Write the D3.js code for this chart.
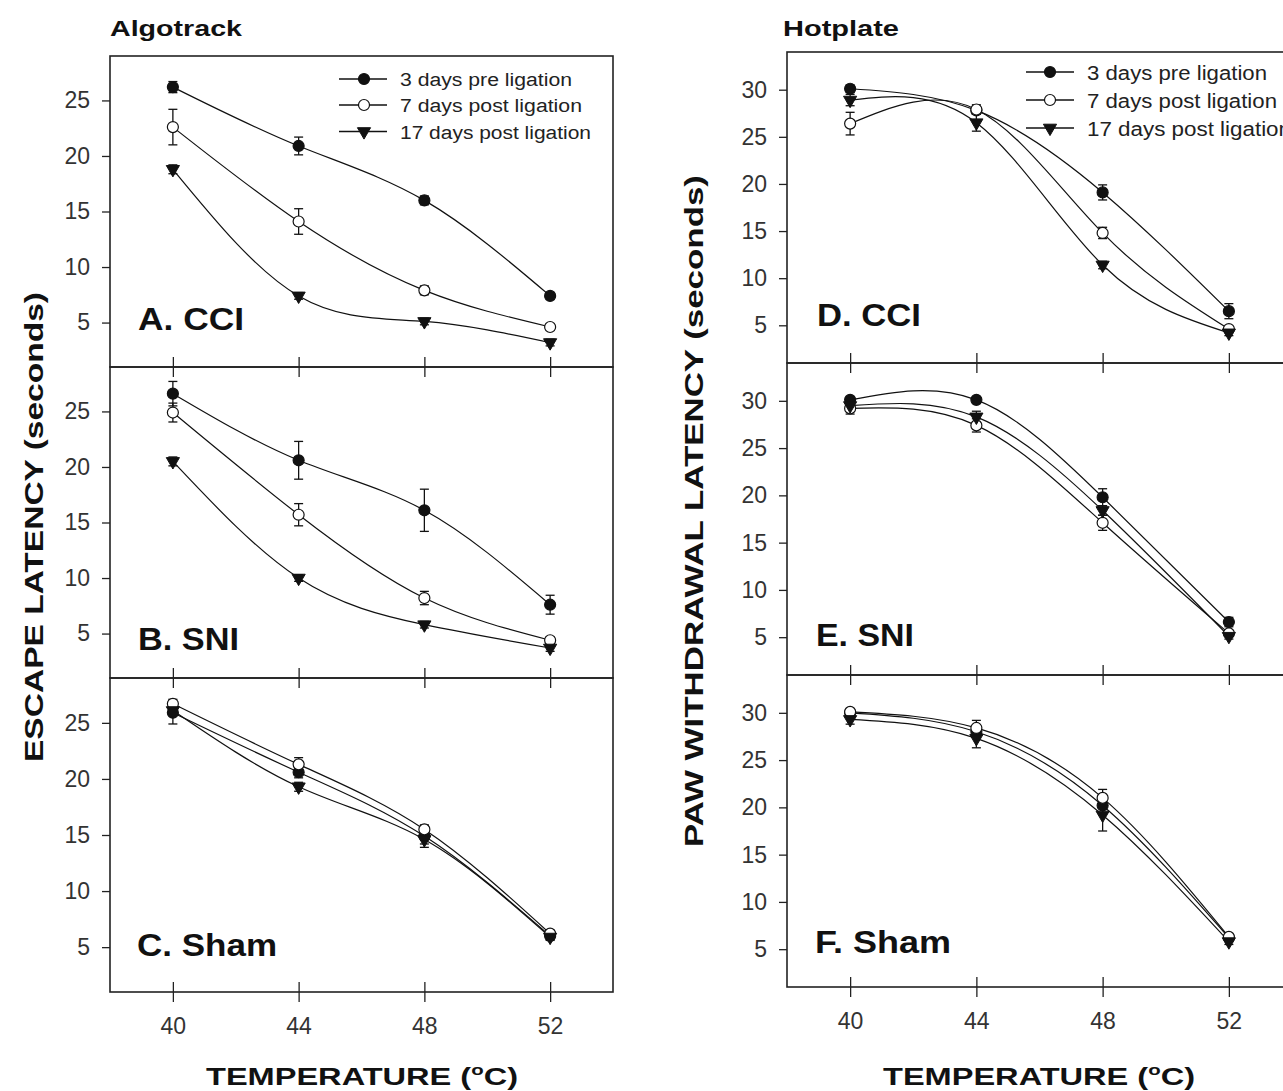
<!DOCTYPE html>
<html><head><meta charset="utf-8">
<script src="https://cdn.jsdelivr.net/npm/d3@7"></script>
<style>
body{margin:0;background:#fff}
svg{display:block}
text{font-family:"Liberation Sans",Arial,Helvetica,sans-serif}
</style>
</head><body>
<svg id="chart" width="1283" height="1091"></svg>
<script>
// ---------------- DATA ----------------
const temperatures = [40, 44, 48, 52];
const seriesNames = ["3 days pre ligation", "7 days post ligation", "17 days post ligation"];
const xTickValues = [40, 44, 48, 52];
const yTicksAlgotrack = [5, 10, 15, 20, 25];
const yTicksHotplate = [5, 10, 15, 20, 25, 30];
const panelLabels = ["A. CCI", "B. SNI", "C. Sham", "D. CCI", "E. SNI", "F. Sham"];

// A. CCI (Algotrack)
const algoCciPre = [26.2, 20.9, 16.0, 7.4],   algoCciPreErr = [0.5, 0.8, 0.4, 0.3];
const algoCci7 = [22.6, 14.1, 7.9, 4.6],      algoCci7Err = [1.6, 1.15, 0.4, 0.3];
const algoCci17 = [18.8, 7.4, 5.1, 3.2],      algoCci17Err = [0.4, 0.3, 0.3, 0.3];
// B. SNI (Algotrack)
const algoSniPre = [26.6, 20.6, 16.1, 7.6],   algoSniPreErr = [1.1, 1.7, 1.9, 0.85];
const algoSni7 = [24.9, 15.7, 8.2, 4.4],      algoSni7Err = [0.85, 1.0, 0.6, 0.3];
const algoSni17 = [20.5, 10.0, 5.8, 3.7],     algoSni17Err = [0.4, 0.3, 0.3, 0.3];
// C. Sham (Algotrack)
const algoShamPre = [25.9, 20.6, 14.9, 6.0],  algoShamPreErr = [1.0, 0.5, 1.0, 0.3];
const algoSham7 = [26.7, 21.3, 15.5, 6.2],    algoSham7Err = [0.4, 0.6, 0.3, 0.3];
const algoSham17 = [26.1, 19.3, 14.6, 5.9],   algoSham17Err = [0.4, 0.4, 0.4, 0.3];
// D. CCI (Hotplate)
const hotCciPre = [30.1, 27.8, 19.1, 6.5],    hotCciPreErr = [0.4, 0.4, 0.8, 0.8];
const hotCci7 = [26.4, 27.9, 14.8, 4.6],      hotCci7Err = [1.2, 0.5, 0.6, 0.3];
const hotCci17 = [28.9, 26.5, 11.4, 4.2],     hotCci17Err = [0.6, 0.9, 0.4, 0.3];
// E. SNI (Hotplate)
const hotSniPre = [30.1, 30.1, 19.8, 6.6],    hotSniPreErr = [0.3, 0.3, 0.9, 0.5];
const hotSni7 = [29.2, 27.4, 17.1, 5.4],      hotSni7Err = [0.6, 0.7, 0.8, 0.3];
const hotSni17 = [29.5, 28.3, 18.4, 5.1],     hotSni17Err = [0.5, 0.6, 0.5, 0.3];
// F. Sham (Hotplate)
const hotShamPre = [30.0, 28.0, 20.2, 6.2],   hotShamPreErr = [0.3, 0.5, 0.8, 0.3];
const hotSham7 = [30.1, 28.4, 21.0, 6.3],     hotSham7Err = [0.3, 0.8, 0.9, 0.3];
const hotSham17 = [29.3, 27.3, 19.2, 5.8],    hotSham17Err = [0.5, 1.0, 1.7, 0.3];

// ---------------- LAYOUT ----------------
const svg = d3.select("#chart");
const INK = "#111";
const cols = [
  { x: [110, 613], yDomain: [1, 29], ticks: yTicksAlgotrack, rows: [[56, 367], [367, 678], [678, 992]] },
  { x: [787, 1292], yDomain: [1, 34], ticks: yTicksHotplate, rows: [[52, 363], [363, 675], [675, 987]] }
];
const panels = [
  { col: 0, row: 0, label: panelLabels[0], labelPos: [138, 330, 106], series: [[algoCciPre, algoCciPreErr], [algoCci7, algoCci7Err], [algoCci17, algoCci17Err]], legend: true },
  { col: 0, row: 1, label: panelLabels[1], labelPos: [138, 650, 101], series: [[algoSniPre, algoSniPreErr], [algoSni7, algoSni7Err], [algoSni17, algoSni17Err]] },
  { col: 0, row: 2, label: panelLabels[2], labelPos: [137, 956, 140], series: [[algoShamPre, algoShamPreErr], [algoSham7, algoSham7Err], [algoSham17, algoSham17Err]], xLabels: true },
  { col: 1, row: 0, label: panelLabels[3], labelPos: [817, 326, 104], series: [[hotCciPre, hotCciPreErr], [hotCci7, hotCci7Err], [hotCci17, hotCci17Err]], legend: true },
  { col: 1, row: 1, label: panelLabels[4], labelPos: [816, 646, 98], series: [[hotSniPre, hotSniPreErr], [hotSni7, hotSni7Err], [hotSni17, hotSni17Err]] },
  { col: 1, row: 2, label: panelLabels[5], labelPos: [815, 953, 136], series: [[hotShamPre, hotShamPreErr], [hotSham7, hotSham7Err], [hotSham17, hotSham17Err]], xLabels: true }
];

const circleSym = d3.symbol(d3.symbolCircle, 95);
const triSym = d3.symbol(d3.symbolTriangle, 75);
function drawMarker(g, si, x, y) {
  if (si === 2) {
    g.append("path").attr("d", triSym()).attr("transform", `translate(${x},${y}) rotate(180)`)
      .attr("fill", INK).attr("stroke", INK).attr("stroke-width", 1);
  } else {
    g.append("path").attr("d", circleSym()).attr("transform", `translate(${x},${y})`)
      .attr("fill", si === 0 ? INK : "#fff").attr("stroke", INK).attr("stroke-width", 1.2);
  }
}

panels.forEach(p => {
  const c = cols[p.col];
  const [top, bottom] = c.rows[p.row];
  const x = d3.scaleLinear().domain([38, 54]).range(c.x);
  const y = d3.scaleLinear().domain(c.yDomain).range([bottom, top]);
  const g = svg.append("g");

  // frame
  g.append("rect").attr("x", c.x[0]).attr("y", top).attr("width", c.x[1] - c.x[0]).attr("height", bottom - top)
    .attr("fill", "none").attr("stroke", "#222").attr("stroke-width", 1.6);

  // y axis
  const ya = g.append("g").attr("transform", `translate(${c.x[0]},0)`)
    .call(d3.axisLeft(y).tickValues(c.ticks).tickSize(8).tickSizeOuter(0).tickPadding(12));
  ya.select(".domain").remove();
  ya.selectAll(".tick line").attr("stroke", "#222").attr("stroke-width", 1.3);
  ya.selectAll(".tick text").attr("font-size", 23).attr("fill", "#333")
    .attr("font-family", "'Liberation Sans', Arial, sans-serif");

  // x axis ticks (crossing)
  const xa = g.append("g").attr("transform", `translate(0,${bottom})`)
    .call(d3.axisBottom(x).tickValues(xTickValues).tickSize(10).tickSizeOuter(0).tickPadding(16));
  xa.select(".domain").remove();
  xa.selectAll(".tick line").attr("y1", -10).attr("y2", 10).attr("stroke", "#222").attr("stroke-width", 1.3);
  if (p.xLabels) {
    xa.selectAll(".tick text").attr("font-size", 23).attr("fill", "#333")
      .attr("font-family", "'Liberation Sans', Arial, sans-serif");
  } else {
    xa.selectAll(".tick text").remove();
  }

  // lines
  const line = d3.line().x((d, i) => x(temperatures[i])).y(d => y(d)).curve(d3.curveNatural);
  p.series.forEach(([vals]) => {
    g.append("path").attr("d", line(vals)).attr("fill", "none").attr("stroke", INK).attr("stroke-width", 1.2);
  });
  // error bars
  p.series.forEach(([vals, errs]) => {
    vals.forEach((v, i) => {
      const cx = x(temperatures[i]);
      const y1 = y(v + errs[i]), y2 = y(v - errs[i]);
      g.append("line").attr("x1", cx).attr("x2", cx).attr("y1", y1).attr("y2", y2).attr("stroke", INK).attr("stroke-width", 1.3);
      [y1, y2].forEach(yy => g.append("line").attr("x1", cx - 4.5).attr("x2", cx + 4.5).attr("y1", yy).attr("y2", yy)
        .attr("stroke", INK).attr("stroke-width", 1.3));
    });
  });
  // markers
  p.series.forEach(([vals], si) => {
    vals.forEach((v, i) => drawMarker(g, si, x(temperatures[i]), y(v)));
  });

  // panel label
  g.append("text").attr("x", p.labelPos[0]).attr("y", p.labelPos[1]).attr("font-size", 32).attr("font-weight", "bold")
    .attr("fill", INK).attr("textLength", p.labelPos[2]).attr("lengthAdjust", "spacingAndGlyphs").text(p.label);

  // legend
  if (p.legend) {
    const L = p.col === 0
      ? { x1: 339, x2: 387, mx: 364, tx: 400, rows: [79, 105, 131.5], base: 7, fs: 18, lens: [172, 182, 191] }
      : { x1: 1026, x2: 1074, mx: 1050, tx: 1087, rows: [72, 100, 128], base: 8, fs: 20, lens: [180, 190, 204] };
    seriesNames.forEach((name, si) => {
      const yy = L.rows[si];
      g.append("line").attr("x1", L.x1).attr("x2", L.x2).attr("y1", yy).attr("y2", yy).attr("stroke", INK).attr("stroke-width", 1.3);
      drawMarker(g, si, L.mx, yy);
      g.append("text").attr("x", L.tx).attr("y", yy + L.base).attr("font-size", L.fs).attr("fill", "#222")
        .attr("textLength", L.lens[si]).attr("lengthAdjust", "spacingAndGlyphs").text(name);
    });
  }
});

// titles
svg.append("text").attr("x", 110).attr("y", 36).attr("font-size", 22).attr("font-weight", "bold").attr("fill", INK)
  .attr("textLength", 132).attr("lengthAdjust", "spacingAndGlyphs").text("Algotrack");
svg.append("text").attr("x", 783).attr("y", 36).attr("font-size", 22).attr("font-weight", "bold").attr("fill", INK)
  .attr("textLength", 116).attr("lengthAdjust", "spacingAndGlyphs").text("Hotplate");

// y axis titles
svg.append("text").attr("transform", "translate(43,527) rotate(-90)").attr("text-anchor", "middle")
  .attr("font-size", 25).attr("font-weight", "bold").attr("fill", INK)
  .attr("textLength", 470).attr("lengthAdjust", "spacingAndGlyphs").text("ESCAPE LATENCY (seconds)");
svg.append("text").attr("transform", "translate(703,511) rotate(-90)").attr("text-anchor", "middle")
  .attr("font-size", 26).attr("font-weight", "bold").attr("fill", INK)
  .attr("textLength", 672).attr("lengthAdjust", "spacingAndGlyphs").text("PAW WITHDRAWAL LATENCY (seconds)");

// x axis titles
function tempTitle(cx, by) {
  const t = svg.append("text").attr("x", cx).attr("y", by).attr("text-anchor", "middle")
    .attr("font-size", 24).attr("font-weight", "bold").attr("fill", INK)
    .attr("textLength", 312).attr("lengthAdjust", "spacingAndGlyphs");
  t.append("tspan").text("TEMPERATURE (");
  t.append("tspan").attr("font-size", 15).attr("dy", -10).text("o");
  t.append("tspan").attr("dy", 10).text("C)");
}
tempTitle(362, 1085);
tempTitle(1039, 1085);
</script>
</body></html>
